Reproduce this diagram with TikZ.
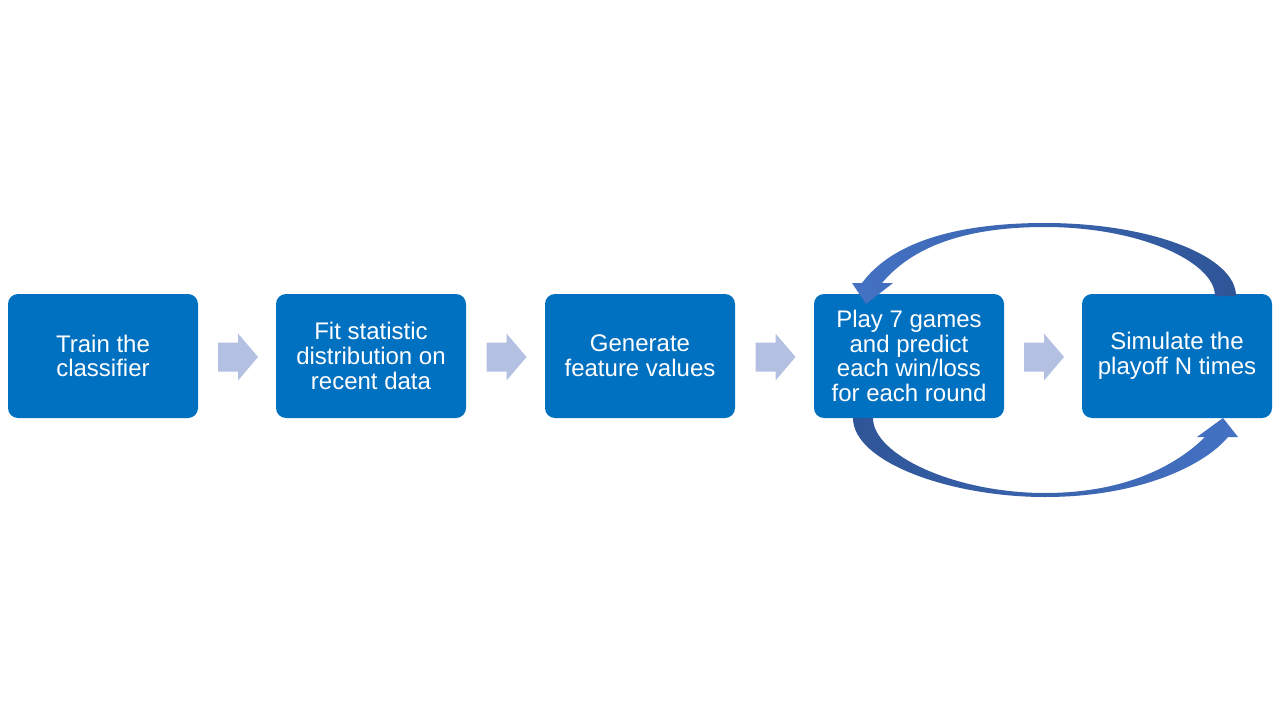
\documentclass[tikz,border=0pt]{standalone}
\usepackage{fontspec}
\setmainfont{Liberation Sans}
\definecolor{boxblue}{RGB}{0,112,192}
\definecolor{chev}{RGB}{180,192,226}
\definecolor{arcdark}{RGB}{47,85,151}
\definecolor{arclight}{RGB}{68,114,196}
\tikzset{
  stepbox/.style={rectangle, rounded corners=10pt, fill=boxblue, draw=none,
    minimum width=190pt, minimum height=124pt, text=white, align=center,
    font=\fontsize{24}{24.7}\selectfont, inner sep=0pt},
  chevron/.style={fill=chev, draw=none}
}
\newcommand{\chevronat}[1]{%
  \fill[chevron] ($(#1)+(-20,-14.5)$) -- ($(#1)+(0,-14.5)$) -- ($(#1)+(0,-23.5)$)
    -- ($(#1)+(20,0)$) -- ($(#1)+(0,23.5)$) -- ($(#1)+(0,14.5)$) -- ($(#1)+(-20,14.5)$) -- cycle;}
\usetikzlibrary{calc}
\begin{document}
\begin{tikzpicture}[x=1pt,y=-1pt]
\useasboundingbox (0,0) rectangle (1280,720);
\fill[white] (0,0) rectangle (1280,720);
\node[stepbox] (b1) at (103,356) {Train the\\classifier};
\node[stepbox] (b2) at (371,356) {Fit statistic\\distribution on\\recent data};
\node[stepbox] (b3) at (640,356) {Generate\\feature values};
\node[stepbox] (b4) at (909,356) {Play 7 games\\and predict\\each win/loss\\for each round};
\node[stepbox] (b5) at (1177,356) {Simulate the\\playoff N times};
\coordinate (c1) at ($(b1.east)!0.5!(b2.west)+(1,1)$);
\coordinate (c2) at ($(b2.east)!0.5!(b3.west)+(1,1)$);
\coordinate (c3) at ($(b3.east)!0.5!(b4.west)+(1,1)$);
\coordinate (c4) at ($(b4.east)!0.5!(b5.west)+(1,1)$);
\chevronat{c1}
\chevronat{c2}
\chevronat{c3}
\chevronat{c4}
% top curved arrow: from b5 back to b4
\shade[left color=arclight, right color=arcdark, draw=none]
  (1236,296) .. controls (1236,256) and (1150,223) .. (1045,223)
  .. controls (950,223) and (890,245) .. (862,283)
  -- (852,283) -- (866,304) -- (893,283) -- (882,283)
  .. controls (908,252) and (955,227) .. (1045,227)
  .. controls (1140,227) and (1215,262) .. (1215,296) -- cycle;
% bottom curved arrow: from b4 to b5
\shade[left color=arcdark, right color=arclight, draw=none]
  (853,418) .. controls (853,462) and (950,497) .. (1045,497)
  .. controls (1140,497) and (1205,465) .. (1228,437)
  -- (1238,437) -- (1223,418) -- (1197,437) -- (1205,437)
  .. controls (1180,462) and (1130,493) .. (1045,493)
  .. controls (955,493) and (873,455) .. (873,418) -- cycle;
\end{tikzpicture}
\end{document}
